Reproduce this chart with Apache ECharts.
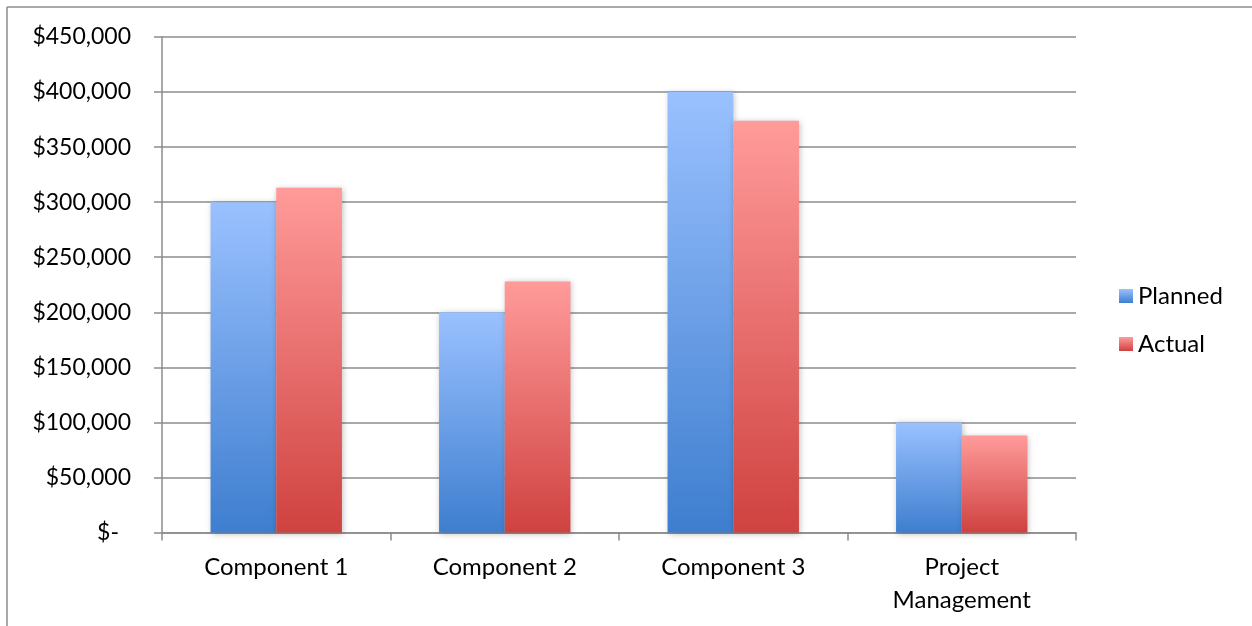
<!DOCTYPE html>
<html>
<head>
<meta charset="utf-8">
<script src="https://cdn.jsdelivr.net/npm/echarts@6/dist/echarts.min.js"></script>
<style>
  html, body { margin: 0; padding: 0; background: #fff; }
  #chart { width: 1252px; height: 626px; }
</style>
</head>
<body>
<div id="chart"></div>
<script>
// Budget by work package: planned vs. actual spend
const categories = ['Component 1', 'Component 2', 'Component 3', 'Project\nManagement'];
const planned = [300000, 200000, 400000, 100000];
const actual = [313000, 228000, 374000, 88000];
const seriesNames = ['Planned', 'Actual'];

const FONT = 'Lato, "Open Sans", sans-serif';

function vGrad(top, bottom) {
  return new echarts.graphic.LinearGradient(0, 0, 0, 1, [
    { offset: 0, color: top },
    { offset: 1, color: bottom }
  ]);
}
const blue = vGrad('#9ac1ff', '#3e7ecf');
const red = vGrad('#ff9b9a', '#cf4240');

function money(v) {
  if (v === 0) return '{z|$-}';
  return '$' + v.toLocaleString('en-US');
}

const chart = echarts.init(document.getElementById('chart'), null, { renderer: 'canvas' });
chart.setOption({
  animation: false,
  backgroundColor: '#fff',
  textStyle: { fontFamily: FONT },
  grid: { left: 162, right: 176, top: 37, bottom: 93.5, containLabel: false },
  legend: {
    orient: 'vertical',
    left: 1114,
    top: 279,
    itemWidth: 14,
    itemHeight: 14,
    itemGap: 24,
    icon: 'rect',
    textStyle: { fontFamily: FONT, fontSize: 24, lineHeight: 24, color: '#000' },
    data: seriesNames
  },
  xAxis: {
    type: 'category',
    data: categories,
    axisLine: { show: true, lineStyle: { color: '#8c8c8c', width: 1.5 } },
    axisTick: { show: true, length: 8, inside: false, lineStyle: { color: '#8c8c8c', width: 1.5 } },
    axisLabel: {
      fontFamily: FONT, fontSize: 24, color: '#000', margin: 18, lineHeight: 33
    },
    splitLine: { show: false }
  },
  yAxis: {
    type: 'value',
    min: 0,
    max: 450000,
    interval: 50000,
    axisLine: { show: true, lineStyle: { color: '#8c8c8c', width: 1.5 } },
    axisTick: { show: true, length: 8, lineStyle: { color: '#8c8c8c', width: 1.5 } },
    axisLabel: {
      fontFamily: FONT, fontSize: 23, color: '#000', margin: 31,
      formatter: money,
      rich: { z: { fontFamily: FONT, fontSize: 23, color: '#000', padding: [0, 12, 0, 0] } }
    },
    splitLine: { show: true, lineStyle: { color: '#8c8c8c', width: 1.5 } }
  },
  series: [
    {
      name: seriesNames[0],
      type: 'bar',
      data: planned,
      barGap: '0%',
      barCategoryGap: '42.5%',
      itemStyle: {
        color: blue,
        shadowColor: 'rgba(0,0,0,0.25)', shadowBlur: 6, shadowOffsetX: 1, shadowOffsetY: 1
      }
    },
    {
      name: seriesNames[1],
      type: 'bar',
      data: actual,
      barGap: '0%',
      barCategoryGap: '42.5%',
      itemStyle: {
        color: red,
        shadowColor: 'rgba(0,0,0,0.25)', shadowBlur: 6, shadowOffsetX: 1, shadowOffsetY: 1
      }
    }
  ],
  graphic: [
    { type: 'line', shape: { x1: 7, y1: 7, x2: 1252, y2: 7 }, style: { stroke: '#8c8c8c', lineWidth: 1.5 }, silent: true },
    { type: 'line', shape: { x1: 7, y1: 7, x2: 7, y2: 626 }, style: { stroke: '#8c8c8c', lineWidth: 1.5 }, silent: true }
  ]
});
</script>
</body>
</html>
